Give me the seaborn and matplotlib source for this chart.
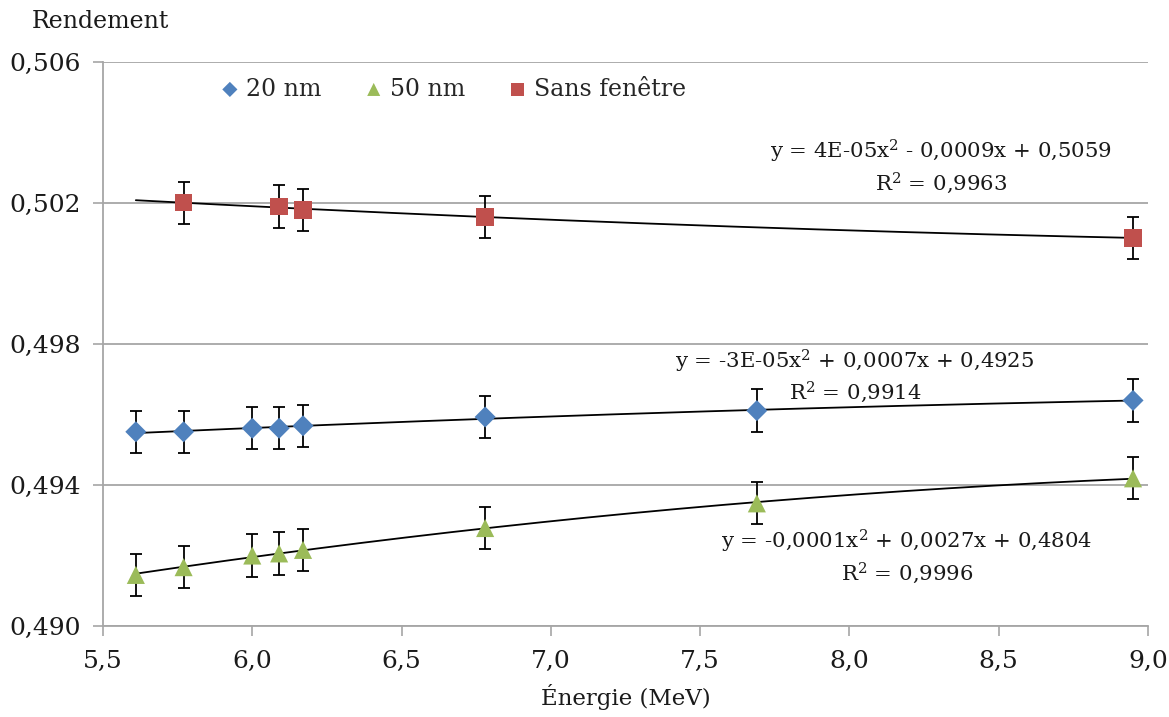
import numpy as np
import pandas as pd
import matplotlib
matplotlib.use('Agg')
import matplotlib.pyplot as plt
from matplotlib.ticker import FuncFormatter, FixedLocator, MultipleLocator
import seaborn as sns

# Data
energie = [5.61, 5.77, 6.00, 6.09, 6.17, 6.78, 7.69, 8.95]
rend_20nm = [0.49551, 0.49551, 0.49561, 0.49561, 0.49568, 0.49593, 0.49611, 0.49640]
rend_50nm = [0.49145, 0.49167, 0.49200, 0.49206, 0.49216, 0.49278, 0.49348, 0.49419]
energie_sf = [5.77, 6.09, 6.17, 6.78, 8.95]
rend_sf = [0.50201, 0.50190, 0.50180, 0.50161, 0.50101]
erreur = 0.0006

y_ticks = [0.490, 0.494, 0.498, 0.502, 0.506]

equations = [
    'y = 4E-05x$^2$ - 0,0009x + 0,5059\nR$^2$ = 0,9963',
    'y = -3E-05x$^2$ + 0,0007x + 0,4925\nR$^2$ = 0,9914',
    'y = -0,0001x$^2$ + 0,0027x + 0,4804\nR$^2$ = 0,9996',
]

c_blue = '#4F81BD'
c_green = '#9BBB59'
c_red = '#C0504D'
grid_c = '#A6A6A6'
txt_c = '#1a1a1a'

sns.set_theme(style='white')
plt.rcParams['font.family'] = ['DejaVu Serif']
plt.rcParams['mathtext.fontset'] = 'dejavuserif'
plt.rcParams['xtick.bottom'] = True
plt.rcParams['ytick.left'] = True

fig = plt.figure(figsize=(11.69, 7.17), dpi=100)
ax = fig.add_axes([0.0881, 0.1269, 0.8939, 0.7866])

series = [
    ('20 nm', energie, rend_20nm, c_blue, 'D', 115),
    ('50 nm', energie, rend_50nm, c_green, '^', 170),
    ('Sans fenêtre', energie_sf, rend_sf, c_red, 's', 160),
]

# trend lines (2nd degree fit), drawn over the full energy range
x_fit = np.linspace(min(energie), max(energie), 200)
for name, xs, ys, col, mk, sz in series:
    coef = np.polyfit(xs, ys, 2)
    fit_df = pd.DataFrame({'x': x_fit, 'y': np.polyval(coef, x_fit)})
    sns.lineplot(data=fit_df, x='x', y='y', ax=ax, color='black', lw=1.3, zorder=2)

for name, xs, ys, col, mk, sz in series:
    ax.errorbar(xs, ys, yerr=erreur, fmt='none', ecolor='black', elinewidth=1.3,
                capsize=4, capthick=1.3, zorder=3)
    df = pd.DataFrame({'x': xs, 'y': ys})
    sns.scatterplot(data=df, x='x', y='y', ax=ax, marker=mk, s=sz, color=col,
                    edgecolor='none', label=name, zorder=4)

# equation labels
ax.text(8.307, 0.50302, equations[0], ha='center', va='center', fontsize=15.3, linespacing=1.25, color=txt_c)
ax.text(8.019, 0.49709, equations[1], ha='center', va='center', fontsize=15.3, linespacing=1.25, color=txt_c)
ax.text(8.193, 0.49196, equations[2], ha='center', va='center', fontsize=15.3, linespacing=1.25, color=txt_c)

ax.set_xlim(5.5, 9.0)
ax.set_ylim(0.490, 0.506)
ax.xaxis.set_major_locator(MultipleLocator(0.5))
ax.yaxis.set_major_locator(FixedLocator(y_ticks))
ax.xaxis.set_major_formatter(FuncFormatter(lambda v, p: f'{v:.1f}'.replace('.', ',')))
ax.yaxis.set_major_formatter(FuncFormatter(lambda v, p: f'{v:.3f}'.replace('.', ',')))
ax.tick_params(axis='both', labelsize=18, colors=grid_c, labelcolor=txt_c,
               length=7, width=1.2, direction='out')
ax.tick_params(axis='x', pad=10)
ax.tick_params(axis='y', pad=9)
ax.yaxis.grid(True, color=grid_c, lw=1.3)
ax.xaxis.grid(False)
for side in ['top', 'right']:
    ax.spines[side].set_visible(False)
for side in ['left', 'bottom']:
    ax.spines[side].set_color(grid_c)
    ax.spines[side].set_linewidth(1.3)

ax.set_xlabel('Énergie (MeV)', fontsize=16.5, color=txt_c, labelpad=8)
ax.set_ylabel('')
fig.text(0.027, 0.97, 'Rendement', fontsize=17, color=txt_c, ha='left', va='center')

leg = ax.legend(loc='upper left', bbox_to_anchor=(0.083, 1.01), ncol=3, frameon=False,
                fontsize=17, handletextpad=-0.1, columnspacing=1.4, markerscale=0.72,
                handlelength=1.6)

fig.savefig('out.png', dpi=100)
